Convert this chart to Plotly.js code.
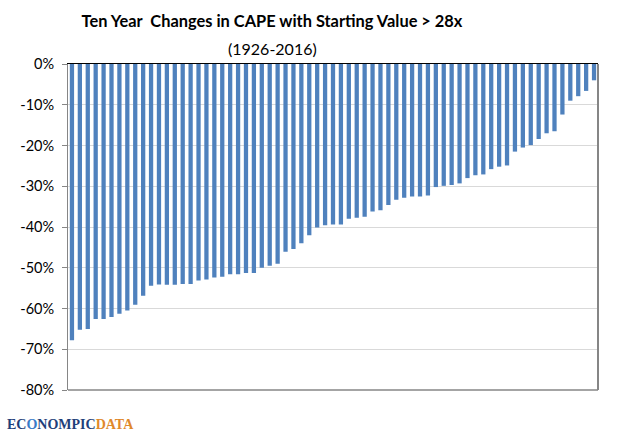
<!DOCTYPE html>
<html>
<head>
<meta charset="utf-8">
<script src="https://cdn.plot.ly/plotly-3.0.1.min.js"></script>
<style>html,body{margin:0;padding:0;background:#fff;} #chart{width:621px;height:436px;}</style>
</head>
<body>
<div id="chart"></div>
<script>
// Ten-year changes in CAPE (%), sorted from largest decline to smallest
const categories = Array.from({length: 67}, (_, i) => 'Obs ' + (i + 1));
const changes = [
  -67.8, -65.2, -65.0, -62.6, -62.6, -62.1, -61.3, -60.5, -59.1, -56.9,
  -54.4, -54.1, -54.2, -54.2, -54.0, -54.0, -53.1, -52.9, -52.4, -52.2,
  -51.6, -51.6, -51.3, -51.3, -50.0, -49.5, -49.0, -46.1, -45.4, -44.0,
  -42.0, -40.1, -39.6, -39.4, -39.4, -38.0, -37.7, -37.5, -36.2, -35.9,
  -34.6, -33.3, -32.8, -32.5, -32.5, -32.3, -30.2, -29.9, -29.7, -29.3,
  -28.0, -27.3, -27.1, -25.8, -25.2, -24.9, -21.5, -20.5, -19.9, -18.4,
  -17.0, -16.5, -12.4, -9.0, -7.9, -6.6, -4.0
];
const tickValues = [0, -10, -20, -30, -40, -50, -60, -70, -80];
const tickLabels = ['0%', '-10%', '-20%', '-30%', '-40%', '-50%', '-60%', '-70%', '-80%'];
const titleText = 'Ten Year  Changes in CAPE with Starting Value > 28x';
const subtitleText = '(1926-2016)';

const W = 621, H = 436;
const data = [{
  type: 'bar',
  x: categories,
  y: changes,
  marker: {color: '#4F81BD', line: {width: 0}},
  hoverinfo: 'y'
}];

const layout = {
  width: W, height: H,
  margin: {l: 68, r: 23, t: 64, b: 46},
  paper_bgcolor: '#ffffff',
  plot_bgcolor: '#ffffff',
  font: {family: 'Lato, "Open Sans", sans-serif', color: '#000'},
  bargap: 0.46,
  showlegend: false,
  title: {
    text: '<b>' + titleText + '</b>',
    font: {family: 'Lato, "Open Sans", sans-serif', size: 16.4, color: '#000'},
    x: 272 / W, xref: 'container', xanchor: 'center',
    y: 1 - 21 / H, yref: 'container', yanchor: 'middle'
  },
  xaxis: {
    type: 'category',
    side: 'top',
    showticklabels: false,
    ticks: '',
    showgrid: false,
    showline: true,
    linecolor: '#000',
    linewidth: 1,
    zeroline: false,
    fixedrange: true
  },
  yaxis: {
    range: [-80, 0],
    tickvals: tickValues,
    ticktext: tickLabels,
    ticks: 'outside',
    ticklen: 5,
    tickcolor: '#868686',
    ticklabelstandoff: 5,
    tickfont: {family: 'Lato, "Open Sans", sans-serif', size: 14.5, color: '#000'},
    showline: true,
    linecolor: '#868686',
    linewidth: 1,
    showgrid: true,
    gridcolor: '#D9D9D9',
    gridwidth: 1,
    zeroline: false,
    fixedrange: true
  },
  shapes: [
    {type: 'line', xref: 'paper', yref: 'paper', x0: 0, x1: 1, y0: 0, y1: 0,
     line: {color: '#868686', width: 1.5}},
    {type: 'line', xref: 'paper', yref: 'paper', x0: 1, x1: 1, y0: 0, y1: 1,
     line: {color: '#868686', width: 2}}
  ],
  annotations: [
    {
      text: subtitleText,
      xref: 'paper', yref: 'paper',
      x: (272 - 68) / (W - 68 - 23), xanchor: 'center',
      y: 1 + (64 - 48) / (H - 64 - 46), yanchor: 'middle',
      showarrow: false,
      font: {family: 'Lato, "Open Sans", sans-serif', size: 16, color: '#000'}
    },
    {
      text: '<b><span style="color:#1F3F7A">EC</span><span style="color:#3A7BC8">O</span><span style="color:#1F3F7A">NOMPIC</span><span style="color:#E0892A">DATA</span></b>',
      xref: 'paper', yref: 'paper',
      x: (5 - 68) / (W - 68 - 23), xanchor: 'left',
      y: -(424 - 390) / (H - 64 - 46), yanchor: 'middle',
      showarrow: false,
      font: {family: '"Liberation Serif", "DejaVu Serif", serif', size: 14}
    }
  ]
};

Plotly.newPlot('chart', data, layout, {displayModeBar: false, staticPlot: true});
</script>
</body>
</html>
